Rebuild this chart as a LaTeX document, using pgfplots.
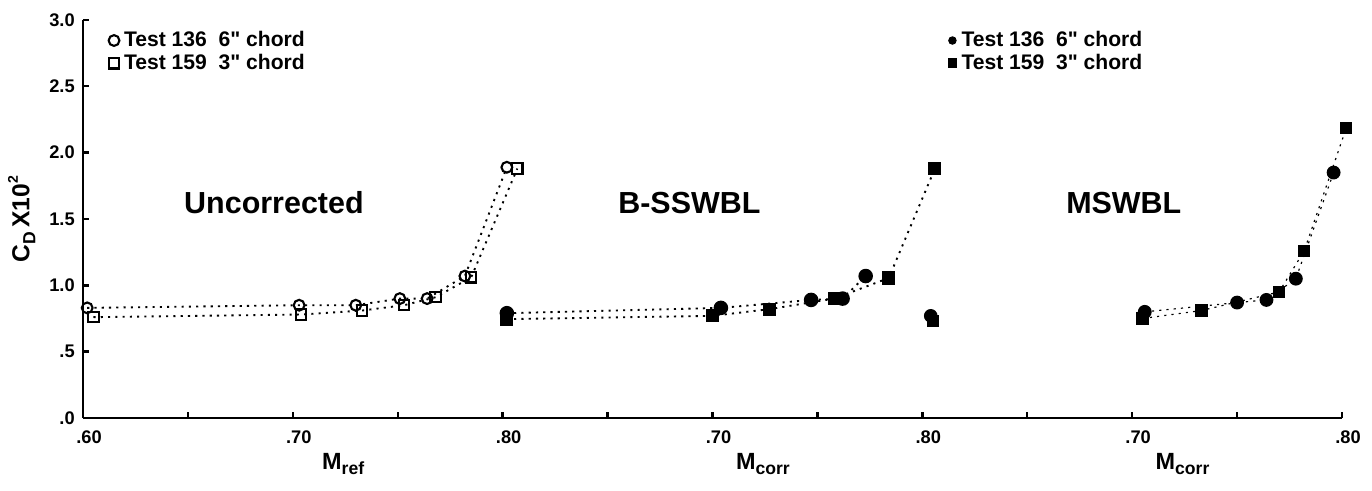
\documentclass[border=0pt]{standalone}
\usepackage{pgfplots}
\pgfplotsset{compat=1.18}
\usepackage{fontspec}
\setmainfont{Liberation Sans}

\tikzset{note/.style={font=\bfseries\fontsize{13}{15}\selectfont}}
\pgfplotsset{
  panel/.style={
    scale only axis, width=6.295cm, height=5.97cm,
    xmin=0.6, xmax=0.8, ymin=0, ymax=3,
    clip=false,
    axis line style={line width=1.2pt},
    xtick={0.6,0.65,0.7,0.75,0.8},
    tick align=inside, major tick length=0.09cm,
    tick style={line width=1pt, black},
    tick label style={font=\bfseries\fontsize{7.8}{9}\selectfont},
    xticklabel style={xshift=0.09cm},
    xticklabel shift=2pt,
    xlabel style={at={(axis description cs:0.62,0)}, anchor=center,
      yshift=-0.69cm, font=\bfseries\fontsize{10}{12}\selectfont},
    legend style={draw=none, fill=none, at={(axis description cs:0.06,0.985)},
      anchor=north west, inner sep=0pt, row sep=-2.3pt,
      font=\bfseries\fontsize{9}{10}\selectfont},
    legend cell align=left,
    legend image code/.code={\draw[#1] plot coordinates {(0.1cm,0cm)};},
  },
  dots/.style={black, dash pattern=on 0.9pt off 2.2pt, line width=0.8pt,
    mark options={solid}},
  openc/.style={mark=o, mark size=2.3pt, mark options={solid, line width=0.9pt}},
  opens/.style={mark=square, mark size=2.2pt, mark options={solid, line width=0.9pt}},
  fullc/.style={mark=*, mark size=2.7pt, mark options={solid}},
  fulls/.style={mark=square*, mark size=2.4pt, mark options={solid}},
}

\begin{document}
\begin{tikzpicture}
\path[use as bounding box] (-1.245,-1.095) rectangle (19.335,6.27);

% Uncorrected
\begin{axis}[panel, name=p1, at={(0,0)}, anchor=south west,
  axis lines*=left,
  ytick={0,0.5,1,1.5,2,2.5,3},
  yticklabels={.0,.5,1.0,1.5,2.0,2.5,3.0},
  xticklabels={.60,,.70,,.80},
  xlabel={M\raisebox{-0.45ex}{\fontsize{7.5}{8}\selectfont ref}},
  ylabel={C\raisebox{-0.45ex}{\fontsize{7.5}{8}\selectfont D}\,X10\raisebox{0.9ex}{\fontsize{6}{7}\selectfont 2}},
  ylabel style={at={(axis description cs:0,0.5)}, anchor=center,
    yshift=0.92cm, font=\bfseries\fontsize{10.5}{12}\selectfont}]
  \addlegendimage{only marks, openc}
  \addlegendentry{Test 136\ \ 6\textquotedbl\ chord}
  \addlegendimage{only marks, opens}
  \addlegendentry{Test 159\ \ 3\textquotedbl\ chord}
  \addplot[dots, openc, forget plot] coordinates {
    (0.602,0.83) (0.703,0.85) (0.730,0.85) (0.751,0.90)
    (0.764,0.90) (0.782,1.07) (0.802,1.89)};
  \addplot[dots, opens, forget plot] coordinates {
    (0.605,0.76) (0.704,0.78) (0.733,0.81) (0.753,0.85)
    (0.768,0.91) (0.785,1.06) (0.807,1.88)};
  \node[note] at (axis cs:0.691,1.62) {Uncorrected};
\end{axis}

% B-SSWBL
\begin{axis}[panel, name=p2, at={(6.295cm,0)}, anchor=south west,
  axis x line*=bottom, axis y line=none, ytick=\empty,
  xticklabels={,,.70,,.80},
  xlabel={M\raisebox{-0.45ex}{\fontsize{7.5}{8}\selectfont corr}}]
  \addplot[dots, fullc] coordinates {
    (0.602,0.79) (0.704,0.83) (0.747,0.89) (0.762,0.90) (0.773,1.07)};
  \addplot[dots, fulls] coordinates {
    (0.602,0.745) (0.700,0.77) (0.727,0.82) (0.758,0.90)
    (0.784,1.055) (0.806,1.88)};
  \node[note] at (axis cs:0.689,1.62) {B-SSWBL};
\end{axis}

% MSWBL
\begin{axis}[panel, name=p3, at={(12.59cm,0)}, anchor=south west,
  axis x line*=bottom, axis y line=none, ytick=\empty,
  xticklabels={,,.70,,.80},
  xlabel={M\raisebox{-0.45ex}{\fontsize{7.5}{8}\selectfont corr}}]
  \addlegendimage{only marks, mark=*, mark size=1.6pt}
  \addlegendentry{Test 136\ \ 6\textquotedbl\ chord}
  \addlegendimage{only marks, mark=square*, mark size=1.9pt}
  \addlegendentry{Test 159\ \ 3\textquotedbl\ chord}
  \addplot[fullc, only marks, forget plot] coordinates {(0.604,0.77)};
  \addplot[fulls, only marks, forget plot] coordinates {(0.605,0.73)};
  \addplot[dots, fullc, line width=0.5pt, forget plot] coordinates {
    (0.706,0.80) (0.750,0.87) (0.764,0.89) (0.778,1.05) (0.796,1.85)};
  \addplot[dots, fulls, line width=0.5pt, forget plot] coordinates {
    (0.705,0.75) (0.733,0.81) (0.770,0.95) (0.782,1.26) (0.802,2.185)};
  \node[note] at (axis cs:0.696,1.62) {MSWBL};
\end{axis}
\end{tikzpicture}
\end{document}
